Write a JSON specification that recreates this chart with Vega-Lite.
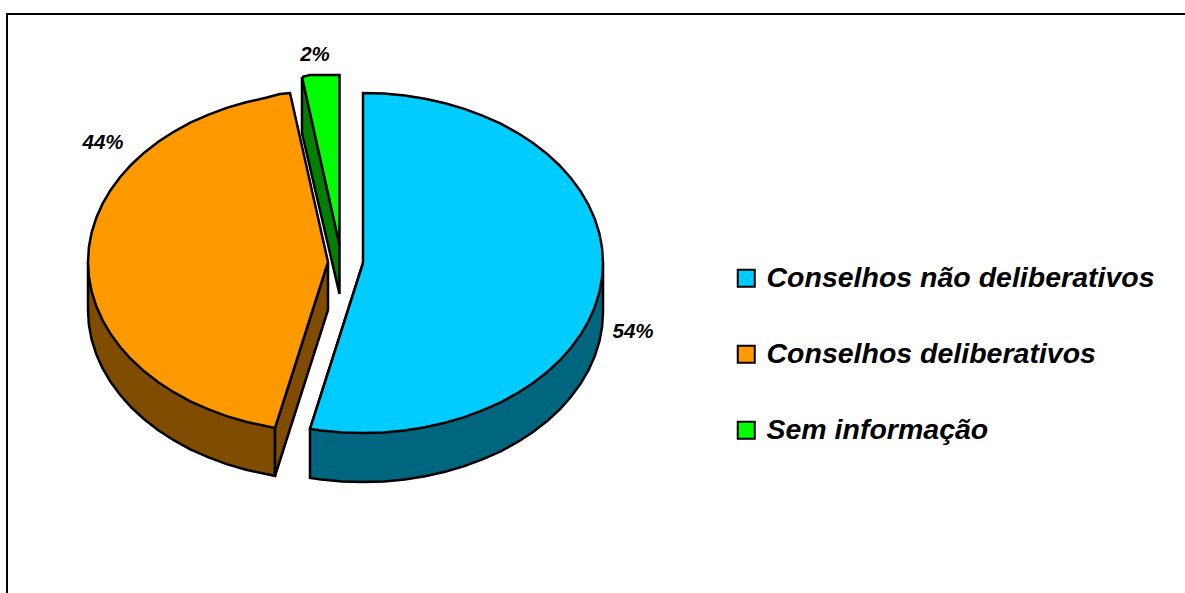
{"$schema":"https://vega.github.io/schema/vega-lite/v6.json","width":1185,"height":593,"padding":0,"autosize":{"type":"none"},"background":"white","config":{"view":{"stroke":null}},"datasets":{"lados":[
{"forma":"Lateral azul","ordem":1,"x":603,"y":263},{"forma":"Lateral azul","ordem":2,"x":603,"y":312},{"forma":"Lateral azul","ordem":2.5,"x":602.1,"y":326.8},{"forma":"Lateral azul","ordem":3,"x":599.4,"y":341.5},{"forma":"Lateral azul","ordem":3.5,"x":594.8,"y":356},{"forma":"Lateral azul","ordem":4,"x":588.5,"y":370.1},{"forma":"Lateral azul","ordem":4.5,"x":580.5,"y":383.8},{"forma":"Lateral azul","ordem":5,"x":570.8,"y":397},{"forma":"Lateral azul","ordem":5.5,"x":559.6,"y":409.5},{"forma":"Lateral azul","ordem":6,"x":546.8,"y":421.3},{"forma":"Lateral azul","ordem":6.5,"x":532.7,"y":432.2},{"forma":"Lateral azul","ordem":7,"x":517.3,"y":442.2},{"forma":"Lateral azul","ordem":7.5,"x":500.7,"y":451.3},{"forma":"Lateral azul","ordem":8,"x":483,"y":459.2},{"forma":"Lateral azul","ordem":8.5,"x":464.4,"y":466.1},{"forma":"Lateral azul","ordem":9,"x":445.1,"y":471.8},{"forma":"Lateral azul","ordem":9.5,"x":425.1,"y":476.2},{"forma":"Lateral azul","ordem":10,"x":404.7,"y":479.4},{"forma":"Lateral azul","ordem":10.5,"x":383.9,"y":481.4},{"forma":"Lateral azul","ordem":11,"x":363,"y":482},{"forma":"Lateral azul","ordem":11.5,"x":342.1,"y":481.4},{"forma":"Lateral azul","ordem":12,"x":321.3,"y":479.4},{"forma":"Lateral azul","ordem":13,"x":310,"y":478},{"forma":"Lateral azul","ordem":14,"x":310,"y":429},{"forma":"Lateral azul","ordem":15,"x":363,"y":263},{"forma":"Lateral azul","ordem":16,"x":603,"y":263},
{"forma":"Lateral laranja","ordem":1,"x":88,"y":262},{"forma":"Lateral laranja","ordem":2,"x":88,"y":310},{"forma":"Lateral laranja","ordem":2.5,"x":88.9,"y":324.8},{"forma":"Lateral laranja","ordem":3,"x":91.6,"y":339.5},{"forma":"Lateral laranja","ordem":3.5,"x":96.2,"y":354},{"forma":"Lateral laranja","ordem":4,"x":102.5,"y":368.1},{"forma":"Lateral laranja","ordem":4.5,"x":110.5,"y":381.8},{"forma":"Lateral laranja","ordem":5,"x":120.2,"y":395},{"forma":"Lateral laranja","ordem":5.5,"x":131.4,"y":407.5},{"forma":"Lateral laranja","ordem":6,"x":144.2,"y":419.3},{"forma":"Lateral laranja","ordem":6.5,"x":158.3,"y":430.2},{"forma":"Lateral laranja","ordem":7,"x":173.7,"y":440.2},{"forma":"Lateral laranja","ordem":7.5,"x":190.3,"y":449.3},{"forma":"Lateral laranja","ordem":8,"x":208,"y":457.2},{"forma":"Lateral laranja","ordem":8.5,"x":226.6,"y":464.1},{"forma":"Lateral laranja","ordem":9,"x":246,"y":469.8},{"forma":"Lateral laranja","ordem":10,"x":275,"y":476},{"forma":"Lateral laranja","ordem":11,"x":275,"y":428},{"forma":"Lateral laranja","ordem":12,"x":88,"y":262},
{"forma":"Corte laranja","ordem":1,"x":328,"y":262},{"forma":"Corte laranja","ordem":2,"x":328,"y":310},{"forma":"Corte laranja","ordem":3,"x":275,"y":476},{"forma":"Corte laranja","ordem":4,"x":275,"y":428},{"forma":"Corte laranja","ordem":5,"x":328,"y":262},
{"forma":"Lateral verde","ordem":1,"x":302,"y":77},{"forma":"Lateral verde","ordem":2,"x":302,"y":133},{"forma":"Lateral verde","ordem":3,"x":339.5,"y":294},{"forma":"Lateral verde","ordem":4,"x":339.5,"y":245},{"forma":"Lateral verde","ordem":5,"x":302,"y":77}
],"topos":[
{"serie":"Conselhos não deliberativos","ordem":1,"x":363,"y":263},{"serie":"Conselhos não deliberativos","ordem":2,"x":363,"y":93},{"serie":"Conselhos não deliberativos","ordem":2.5,"x":383.9,"y":93.6},{"serie":"Conselhos não deliberativos","ordem":3,"x":404.7,"y":95.6},{"serie":"Conselhos não deliberativos","ordem":3.5,"x":425.1,"y":98.8},{"serie":"Conselhos não deliberativos","ordem":4,"x":445.1,"y":103.2},{"serie":"Conselhos não deliberativos","ordem":4.5,"x":464.4,"y":108.9},{"serie":"Conselhos não deliberativos","ordem":5,"x":483,"y":115.8},{"serie":"Conselhos não deliberativos","ordem":5.5,"x":500.7,"y":123.7},{"serie":"Conselhos não deliberativos","ordem":6,"x":517.3,"y":132.8},{"serie":"Conselhos não deliberativos","ordem":6.5,"x":532.7,"y":142.8},{"serie":"Conselhos não deliberativos","ordem":7,"x":546.8,"y":153.7},{"serie":"Conselhos não deliberativos","ordem":7.5,"x":559.6,"y":165.5},{"serie":"Conselhos não deliberativos","ordem":8,"x":570.8,"y":178},{"serie":"Conselhos não deliberativos","ordem":8.5,"x":580.5,"y":191.2},{"serie":"Conselhos não deliberativos","ordem":9,"x":588.5,"y":204.9},{"serie":"Conselhos não deliberativos","ordem":9.5,"x":594.8,"y":219},{"serie":"Conselhos não deliberativos","ordem":10,"x":599.4,"y":233.5},{"serie":"Conselhos não deliberativos","ordem":10.5,"x":602.1,"y":248.2},{"serie":"Conselhos não deliberativos","ordem":11,"x":603,"y":263},{"serie":"Conselhos não deliberativos","ordem":11.5,"x":602.1,"y":277.8},{"serie":"Conselhos não deliberativos","ordem":12,"x":599.4,"y":292.5},{"serie":"Conselhos não deliberativos","ordem":12.5,"x":594.8,"y":307},{"serie":"Conselhos não deliberativos","ordem":13,"x":588.5,"y":321.1},{"serie":"Conselhos não deliberativos","ordem":13.5,"x":580.5,"y":334.8},{"serie":"Conselhos não deliberativos","ordem":14,"x":570.8,"y":348},{"serie":"Conselhos não deliberativos","ordem":14.5,"x":559.6,"y":360.5},{"serie":"Conselhos não deliberativos","ordem":15,"x":546.8,"y":372.3},{"serie":"Conselhos não deliberativos","ordem":15.5,"x":532.7,"y":383.2},{"serie":"Conselhos não deliberativos","ordem":16,"x":517.3,"y":393.2},{"serie":"Conselhos não deliberativos","ordem":16.5,"x":500.7,"y":402.3},{"serie":"Conselhos não deliberativos","ordem":17,"x":483,"y":410.2},{"serie":"Conselhos não deliberativos","ordem":17.5,"x":464.4,"y":417.1},{"serie":"Conselhos não deliberativos","ordem":18,"x":445.1,"y":422.8},{"serie":"Conselhos não deliberativos","ordem":18.5,"x":425.1,"y":427.2},{"serie":"Conselhos não deliberativos","ordem":19,"x":404.7,"y":430.4},{"serie":"Conselhos não deliberativos","ordem":19.5,"x":383.9,"y":432.4},{"serie":"Conselhos não deliberativos","ordem":20,"x":363,"y":433},{"serie":"Conselhos não deliberativos","ordem":20.5,"x":342.1,"y":432.4},{"serie":"Conselhos não deliberativos","ordem":21,"x":321.3,"y":430.4},{"serie":"Conselhos não deliberativos","ordem":22,"x":310,"y":429},{"serie":"Conselhos não deliberativos","ordem":23,"x":363,"y":263},
{"serie":"Conselhos deliberativos","ordem":1,"x":328,"y":262},{"serie":"Conselhos deliberativos","ordem":2,"x":275,"y":428},{"serie":"Conselhos deliberativos","ordem":3,"x":246,"y":421.8},{"serie":"Conselhos deliberativos","ordem":3.5,"x":226.6,"y":416.1},{"serie":"Conselhos deliberativos","ordem":4,"x":208,"y":409.2},{"serie":"Conselhos deliberativos","ordem":4.5,"x":190.3,"y":401.3},{"serie":"Conselhos deliberativos","ordem":5,"x":173.7,"y":392.2},{"serie":"Conselhos deliberativos","ordem":5.5,"x":158.3,"y":382.2},{"serie":"Conselhos deliberativos","ordem":6,"x":144.2,"y":371.3},{"serie":"Conselhos deliberativos","ordem":6.5,"x":131.4,"y":359.5},{"serie":"Conselhos deliberativos","ordem":7,"x":120.2,"y":347},{"serie":"Conselhos deliberativos","ordem":7.5,"x":110.5,"y":333.8},{"serie":"Conselhos deliberativos","ordem":8,"x":102.5,"y":320.1},{"serie":"Conselhos deliberativos","ordem":8.5,"x":96.2,"y":306},{"serie":"Conselhos deliberativos","ordem":9,"x":91.6,"y":291.5},{"serie":"Conselhos deliberativos","ordem":9.5,"x":88.9,"y":276.8},{"serie":"Conselhos deliberativos","ordem":10,"x":88,"y":262},{"serie":"Conselhos deliberativos","ordem":10.5,"x":88.9,"y":247.2},{"serie":"Conselhos deliberativos","ordem":11,"x":91.6,"y":232.5},{"serie":"Conselhos deliberativos","ordem":11.5,"x":96.2,"y":218},{"serie":"Conselhos deliberativos","ordem":12,"x":102.5,"y":203.9},{"serie":"Conselhos deliberativos","ordem":12.5,"x":110.5,"y":190.2},{"serie":"Conselhos deliberativos","ordem":13,"x":120.2,"y":177},{"serie":"Conselhos deliberativos","ordem":13.5,"x":131.4,"y":164.5},{"serie":"Conselhos deliberativos","ordem":14,"x":144.2,"y":152.7},{"serie":"Conselhos deliberativos","ordem":14.5,"x":158.3,"y":141.8},{"serie":"Conselhos deliberativos","ordem":15,"x":173.7,"y":131.8},{"serie":"Conselhos deliberativos","ordem":15.5,"x":190.3,"y":122.7},{"serie":"Conselhos deliberativos","ordem":16,"x":208,"y":114.8},{"serie":"Conselhos deliberativos","ordem":16.5,"x":226.6,"y":107.9},{"serie":"Conselhos deliberativos","ordem":17,"x":246,"y":102.2},{"serie":"Conselhos deliberativos","ordem":17.5,"x":265.9,"y":97.8},{"serie":"Conselhos deliberativos","ordem":18,"x":280,"y":94},{"serie":"Conselhos deliberativos","ordem":19,"x":290,"y":93},{"serie":"Conselhos deliberativos","ordem":20,"x":328,"y":262},
{"serie":"Sem informação","ordem":1,"x":302,"y":77},{"serie":"Sem informação","ordem":2,"x":310,"y":75},{"serie":"Sem informação","ordem":3,"x":339.5,"y":75},{"serie":"Sem informação","ordem":4,"x":339.5,"y":245},{"serie":"Sem informação","ordem":5,"x":302,"y":77}
],"rotulos":[{"rotulo":"54%","x":633,"y":332},{"rotulo":"44%","x":103,"y":143},{"rotulo":"2%","x":315,"y":55}],
"moldura":[{"ordem":1,"x":7,"y":593},{"ordem":2,"x":7,"y":14},{"ordem":3,"x":1185,"y":14}]},
"layer":[
{"data":{"name":"moldura"},"mark":{"type":"line","stroke":"#000000","strokeWidth":2,"clip":false},"encoding":{"x":{"field":"x","type":"quantitative","scale":{"domain":[0,1185]},"axis":null},"y":{"field":"y","type":"quantitative","scale":{"domain":[593,0]},"axis":null},"order":{"field":"ordem","type":"quantitative"}}},
{"data":{"name":"lados"},"mark":{"type":"line","stroke":"#000000","strokeWidth":2.5,"strokeJoin":"miter"},"encoding":{"x":{"field":"x","type":"quantitative","scale":{"domain":[0,1185]},"axis":null},"y":{"field":"y","type":"quantitative","scale":{"domain":[593,0]},"axis":null},"order":{"field":"ordem","type":"quantitative"},"detail":{"field":"forma"},"fill":{"field":"forma","type":"nominal","legend":null,"scale":{"domain":["Lateral azul","Lateral laranja","Corte laranja","Lateral verde"],"range":["#006680","#804C00","#804C00","#008000"]}}}},
{"data":{"name":"topos"},"mark":{"type":"line","stroke":"#000000","strokeWidth":2.5,"strokeJoin":"miter"},"encoding":{"x":{"field":"x","type":"quantitative","scale":{"domain":[0,1185]},"axis":null},"y":{"field":"y","type":"quantitative","scale":{"domain":[593,0]},"axis":null},"order":{"field":"ordem","type":"quantitative"},"detail":{"field":"serie"},"fill":{"field":"serie","type":"nominal","title":null,"scale":{"domain":["Conselhos não deliberativos","Conselhos deliberativos","Sem informação"],"range":["#00CCFF","#FF9900","#00FF00"]},"legend":{"orient":"none","legendX":732,"legendY":264,"title":null,"symbolType":"square","symbolSize":289,"symbolStrokeColor":"#000000","symbolStrokeWidth":2,"symbolOpacity":1,"labelFont":"Liberation Sans","labelFontWeight":"bold","labelFontStyle":"italic","labelFontSize":28.5,"labelColor":"#000000","labelOffset":6,"rowPadding":47,"labelLimit":500}}}},
{"data":{"name":"rotulos"},"mark":{"type":"text","font":"Liberation Sans","fontWeight":"bold","fontStyle":"italic","fontSize":20.5,"color":"#000000","align":"center","baseline":"middle"},"encoding":{"x":{"field":"x","type":"quantitative","scale":{"domain":[0,1185]},"axis":null},"y":{"field":"y","type":"quantitative","scale":{"domain":[593,0]},"axis":null},"text":{"field":"rotulo"}}}
],"resolve":{"scale":{"fill":"independent","color":"independent"}}}
